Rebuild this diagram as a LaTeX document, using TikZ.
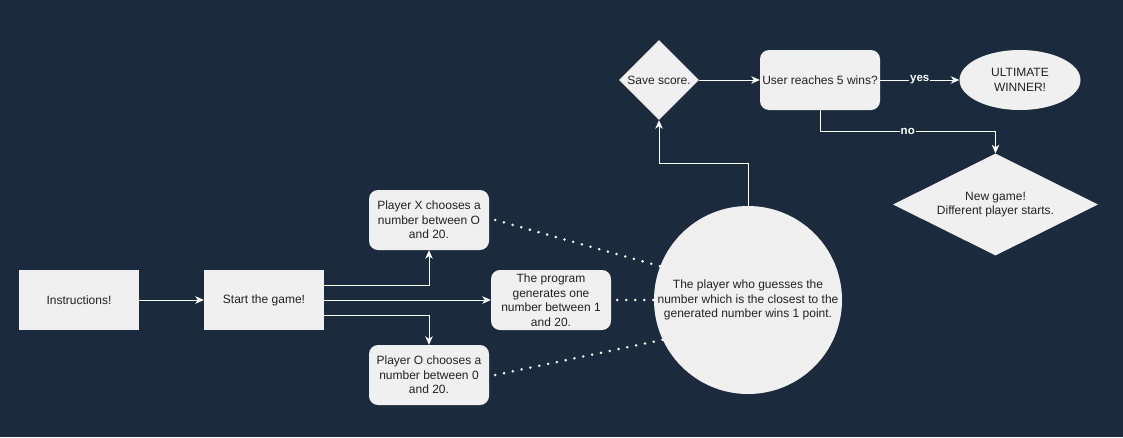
\documentclass[tikz,border=0pt]{standalone}
\usepackage{fontspec}
\setmainfont{Liberation Sans}
\usetikzlibrary{shapes.geometric,arrows.meta}
\definecolor{bgc}{RGB}{27,43,61}
\definecolor{boxfill}{RGB}{240,240,240}
\definecolor{txt}{RGB}{34,34,34}
\begin{document}
\begin{tikzpicture}[x=1pt,y=-1pt,
  every node/.style={font=\fontsize{12}{14.5}\selectfont, text=txt, align=center},
  sqbox/.style={rectangle, fill=boxfill, minimum width=120pt, minimum height=60pt, inner sep=2pt},
  rbox/.style={rectangle, rounded corners=9pt, fill=boxfill, minimum width=120pt, minimum height=60pt, inner sep=2pt},
  circbox/.style={circle, fill=boxfill, minimum size=188pt, inner sep=0pt},
  diabox/.style={diamond, fill=boxfill, inner sep=0pt},
  ellbox/.style={ellipse, fill=boxfill, minimum width=121pt, minimum height=60pt, inner sep=0pt},
  arr/.style={draw=white, line width=1pt, -{Stealth[length=8.5pt,width=7.5pt,inset=2.5pt]}},
  dots/.style={draw=white, line width=2.8pt, line cap=round, dash pattern=on 0pt off 9pt},
  lab/.style={fill=bgc, text=white, font=\fontsize{11.5}{13}\selectfont\bfseries, inner sep=1pt}
]
\useasboundingbox (0,0) rectangle (1123,437);
\fill[bgc] (0,0) rectangle (1123,437);

\node[sqbox] (ins) at (79,300) {Instructions!};
\node[sqbox] (start) at (264,300) {Start the game!};
\node[rbox] (px) at (429,220) {Player X chooses a\\number between O\\and 20.};
\node[rbox] (prog) at (551,300) {The program\\generates one\\number between 1\\and 20.};
\node[rbox] (po) at (429,375) {Player O chooses a\\number between 0\\and 20.};
\node[circbox] (circ) at (748,300) {The player who guesses the\\number which is the closest to the\\generated number wins 1 point.};
\node[diabox, minimum width=80pt, minimum height=80pt, shape aspect=1] (save) at (659,80) {Save score.};
\node[rbox] (user) at (820,80) {User reaches 5 wins?};
\node[ellbox] (win) at (1020,80) {ULTIMATE\\WINNER!};
\node[diabox, minimum width=205pt, minimum height=102pt, shape aspect=2] (ng) at (995.5,204.5) {New game!\\Different player starts.};

\draw[arr] (ins) -- (start);
\draw[arr] ([yshift=15pt]start.east) -| (px.south);
\draw[arr] (start) -- (prog);
\draw[arr] ([yshift=-15pt]start.east) -| (po.north);

\draw[dots] ([xshift=6pt]px.east) -- (circ.159);
\draw[dots] ([xshift=6pt]prog.east) -- (circ.west);
\draw[dots] ([xshift=6pt]po.east) -- (circ.205);

\coordinate (up) at (748,163);
\draw[arr] (circ.north) -- (up) -| (save.south);
\draw[arr] (save) -- (user);
\draw[arr] (user) -- node[lab] {yes} (win);
\draw[arr] (user.south) -- ++(0,21) -| node[lab, pos=0.25] {no} (ng.north);
\end{tikzpicture}
\end{document}
